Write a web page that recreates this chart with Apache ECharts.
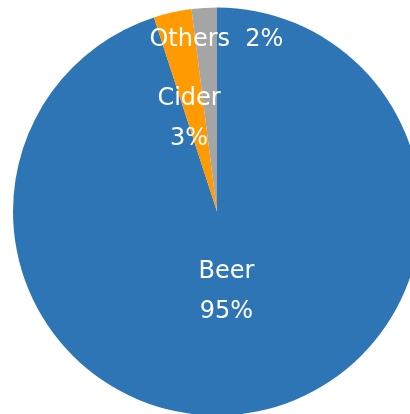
<!DOCTYPE html>
<html>
<head>
<meta charset="utf-8">
<script src="https://cdn.jsdelivr.net/npm/echarts@6/dist/echarts.min.js"></script>
<style>
  html, body { margin: 0; padding: 0; background: #fff; }
  #chart { width: 410px; height: 414px; }
</style>
</head>
<body>
<div id="chart"></div>
<script>
const categories = ['Beer', 'Cider', 'Others']
const values = [95, 3, 2]
const colors = ['#2E75B6', '#FF9A00', '#A5A5A5']
// label nudges from the default inside spot (Excel-like placement)
const labelShift = [[-7, -23], [-5, 10], [6, -67]]

const chart = echarts.init(document.getElementById('chart'))

chart.setOption({
  animation: false,
  series: [
    {
      type: 'pie',
      center: [217, 211.5],
      radius: 204,
      startAngle: 90,
      clockwise: true,
      data: categories.map((name, i) => ({
        name,
        value: values[i],
        itemStyle: { color: colors[i] }
      })),
      label: {
        position: 'inner',
        color: '#fff',
        fontFamily: 'DejaVu Sans',
        fontSize: 24,
        lineHeight: 40,
        formatter: (p) => p.dataIndex === 2 ? `${p.name}  ${p.percent}%` : `${p.name}\n${p.percent}%`
      },
      labelLine: { show: false },
      labelLayout: (params) => ({
        dx: labelShift[params.dataIndex][0],
        dy: labelShift[params.dataIndex][1]
      })
    }
  ]
})
</script>
</body>
</html>
